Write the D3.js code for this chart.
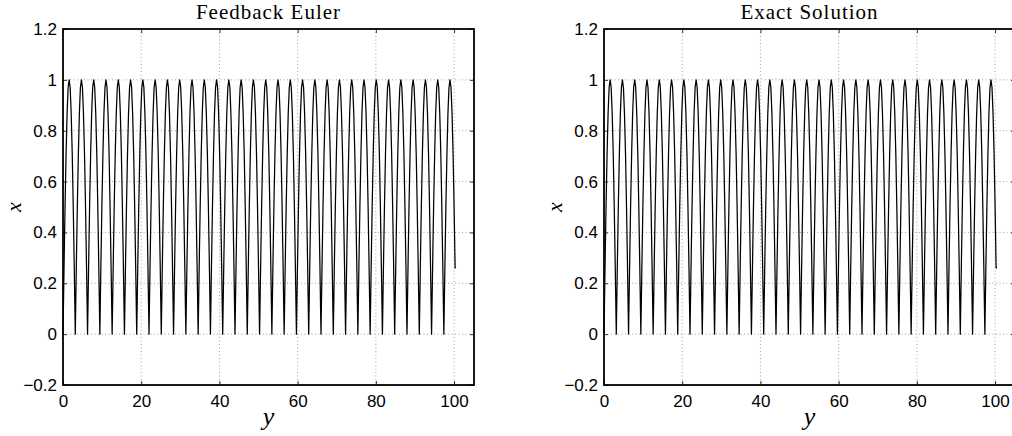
<!DOCTYPE html>
<html><head><meta charset="utf-8">
<script src="https://cdn.jsdelivr.net/npm/d3@7"></script>
<style>body{margin:0;background:#fff;}svg{display:block;}</style>
</head><body><svg id="c" width="1012" height="436"></svg>
<script>
// ---- data ----
const panelTitles = ["Feedback Euler", "Exact Solution"];
const xTicks = [0, 20, 40, 60, 80, 100];
const yTicks = [-0.2, 0, 0.2, 0.4, 0.6, 0.8, 1, 1.2];
const yTickLabels = ["\u22120.2", "0", "0.2", "0.4", "0.6", "0.8", "1", "1.2"];
const xDomain = [0, 105.1];
const yDomain = [-0.2, 1.2];
// positions (y) of the cusps where the curve touches x = 0
const cuspY = [0, 3.14, 6.28, 9.42, 12.57, 15.71, 18.85, 21.99, 25.13, 28.27, 31.42,
  34.56, 37.70, 40.84, 43.98, 47.12, 50.27, 53.41, 56.55, 59.69, 62.83, 65.97,
  69.12, 72.26, 75.40, 78.54, 81.68, 84.82, 87.96, 91.11, 94.25, 97.39];
// shape of one hump (offset after cusp, value)
const humpOffset = [0, 0.26, 0.52, 0.79, 1.05, 1.31, 1.57, 1.83, 2.09, 2.36, 2.62, 2.88];
const humpValue  = [0, 0.26, 0.50, 0.71, 0.87, 0.97, 1.00, 0.97, 0.87, 0.71, 0.50, 0.26];
// last sample of each run
const endY = [100.4, 100.4];
const endX = [0.265, 0.265];

(function () {
const svg = d3.select("#c");
const panels = [{left: 63, right: 474}, {left: 604, right: 1015}];
const yTop = 29, yBot = 385;

panels.forEach((p, i) => {
  const x = d3.scaleLinear().domain(xDomain).range([p.left, p.right]);
  const y = d3.scaleLinear().domain(yDomain).range([yBot, yTop]);
  const g = svg.append("g");

  // grid
  const grid = g.append("g").attr("stroke", "#8c8c8c").attr("stroke-width", 0.8)
    .attr("stroke-dasharray", "1,2.5");
  xTicks.filter(t => t > 0).forEach(t => grid.append("line")
    .attr("x1", x(t)).attr("x2", x(t)).attr("y1", yTop).attr("y2", yBot));
  yTicks.filter(t => t > yDomain[0] && t < yDomain[1]).forEach(t => grid.append("line")
    .attr("x1", p.left).attr("x2", p.right).attr("y1", y(t)).attr("y2", y(t)));

  // curve
  const pts = [];
  cuspY.forEach(c => {
    humpOffset.forEach((o, j) => {
      if (c + o < endY[i]) pts.push([c + o, humpValue[j]]);
    });
  });
  pts.push([endY[i], endX[i]]);
  const line = d3.line().x(d => x(d[0])).y(d => y(d[1])).curve(d3.curveLinear);
  g.append("path").datum(pts).attr("d", line).attr("fill", "none")
    .attr("stroke", "#000").attr("stroke-width", 1.25).attr("stroke-linejoin", "round");

  // axes (inward ticks) via d3 axes
  const tl = 4;
  const axB = d3.axisBottom(x).tickValues(xTicks).tickSize(-tl).tickSizeOuter(0).tickPadding(10);
  const axT = d3.axisTop(x).tickValues(xTicks).tickSize(-tl).tickSizeOuter(0).tickFormat("");
  const axL = d3.axisLeft(y).tickValues(yTicks).tickSize(-tl).tickSizeOuter(0).tickPadding(6)
    .tickFormat((d, k) => yTickLabels[k]);
  const axR = d3.axisRight(y).tickValues(yTicks).tickSize(-tl).tickSizeOuter(0).tickFormat("");
  [[axB, `translate(0,${yBot})`], [axT, `translate(0,${yTop})`],
   [axL, `translate(${p.left},0)`], [axR, `translate(${p.right},0)`]].forEach(([ax, tr]) => {
    const a = g.append("g").attr("transform", tr).call(ax);
    a.select(".domain").remove();
    a.selectAll("line").attr("stroke", "#000").attr("stroke-width", 0.8);
    a.selectAll("text").attr("font-family", "Liberation Sans, Arial, sans-serif")
      .attr("font-size", 17).attr("fill", "#000");
  });
  // box
  g.append("rect").attr("x", p.left).attr("y", yTop).attr("width", p.right - p.left)
    .attr("height", yBot - yTop).attr("fill", "none").attr("stroke", "#000").attr("stroke-width", 1.8);

  // title and labels
  const cx = (p.left + p.right) / 2;
  g.append("text").attr("x", cx).attr("y", 19).attr("text-anchor", "middle")
    .attr("font-family", "Liberation Serif, Times New Roman, serif").attr("font-size", 21)
    .attr("letter-spacing", 1)
    .text(panelTitles[i]);
  g.append("text").attr("x", cx).attr("y", 425).attr("text-anchor", "middle")
    .attr("font-family", "Liberation Serif, serif").attr("font-style", "italic").attr("font-size", 26)
    .text("y");
  g.append("text").attr("transform", `translate(${p.left - 42},${(yTop + yBot) / 2}) rotate(-90)`)
    .attr("text-anchor", "middle")
    .attr("font-family", "Liberation Serif, serif").attr("font-style", "italic").attr("font-size", 22)
    .text("x");
});
})();
</script></body></html>
